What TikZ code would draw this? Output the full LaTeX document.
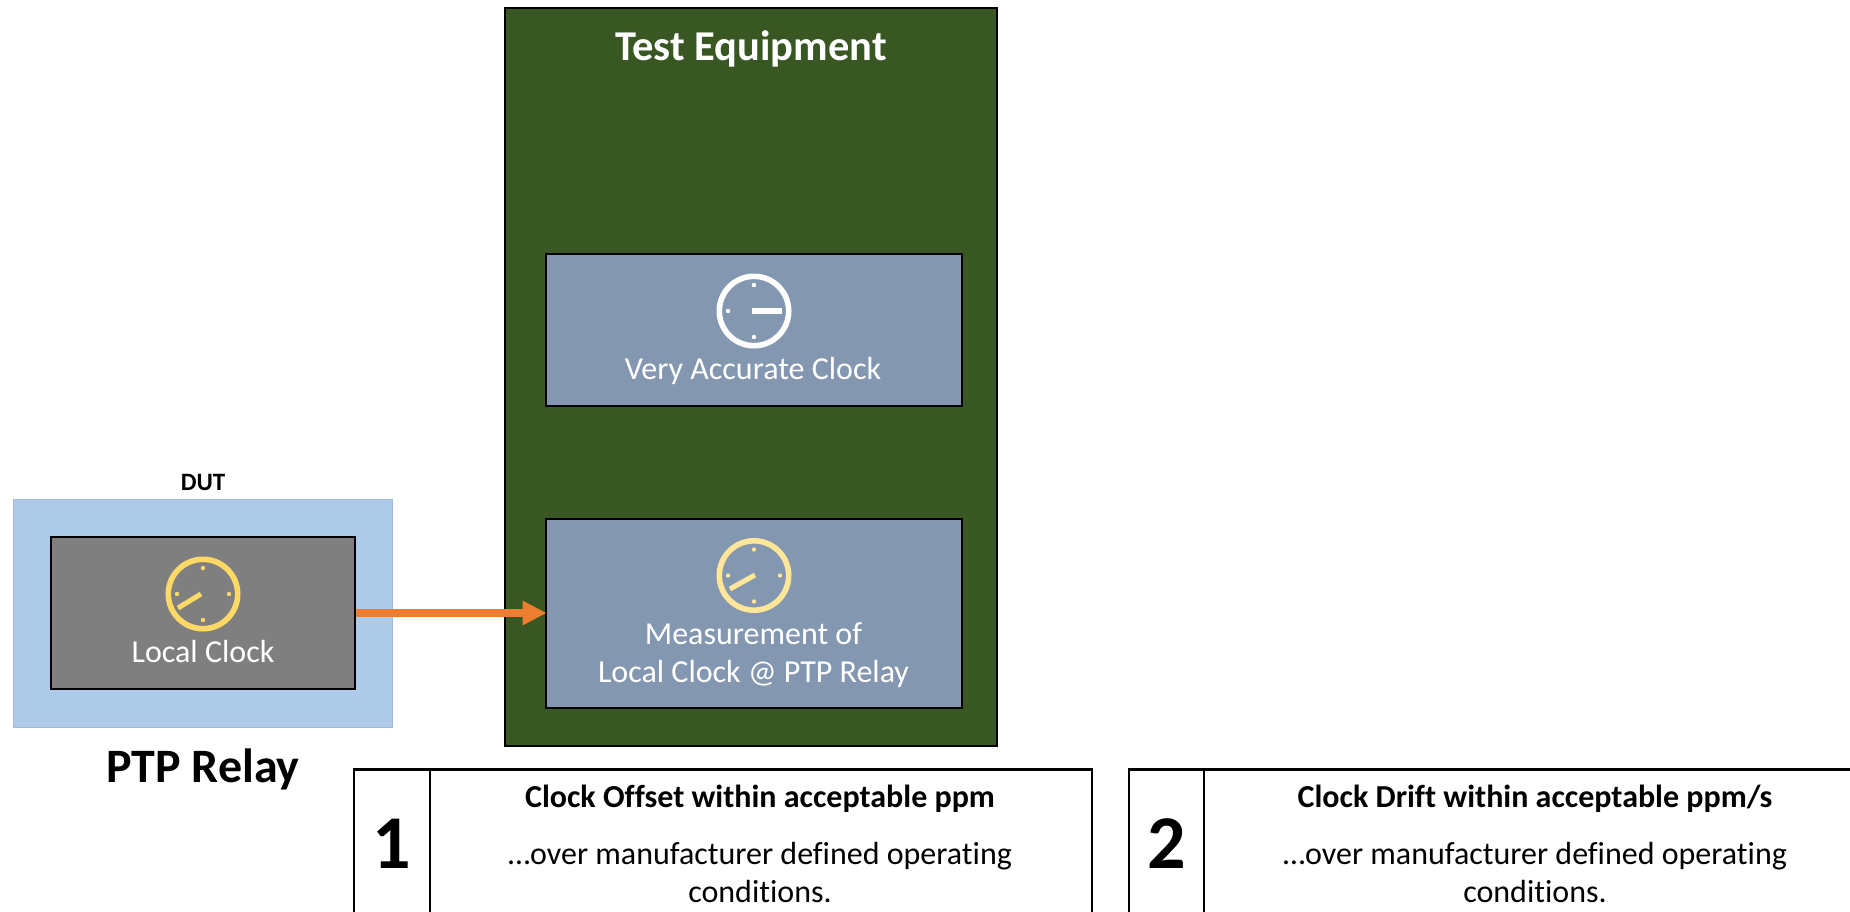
\documentclass[tikz,border=0pt]{standalone}
\usepackage{fontspec}
\setmainfont{Carlito}[Ligatures=NoCommon]
\usetikzlibrary{arrows.meta}
\definecolor{dutblue}{HTML}{ADCBE8}
\definecolor{dutedge}{HTML}{A0B8E0}
\definecolor{lgrey}{HTML}{7F7F7F}
\definecolor{tgreen}{HTML}{385723}
\definecolor{panel}{HTML}{8497B0}
\definecolor{clkyellow}{HTML}{FFD966}
\definecolor{clklight}{HTML}{FFE699}
\definecolor{flow}{HTML}{ED7D31}
\tikzset{
  box/.style={draw=black,line width=2.8pt,inner sep=0pt,rectangle},
  cell/.style={draw=black,line width=2.6pt,inner sep=0pt,outer sep=0pt,rectangle,fill=white},
  lbl/.style={inner sep=0pt,align=center,font=\fontsize{32}{38}\selectfont},
  wlbl/.style={lbl,text=white},
  clockface/.pic={
    \draw[line width=5.6pt,draw=#1] (0,0) circle[radius=34.7];
    \foreach \a in {0,90,180,270}
      \fill[#1] (\a:26) circle[radius=2.2];
  },
}
\begin{document}
\begin{tikzpicture}[x=1pt,y=-1pt]
\useasboundingbox (0,0) rectangle (1850,911);
\clip (0,0) rectangle (1850,911);
% DUT
\node[rectangle,draw=dutedge,line width=1.5pt,fill=dutblue,minimum width=379pt,minimum height=228pt] (dut) at (203,613.5) {};
\node[box,fill=lgrey,minimum width=304pt,minimum height=152pt] (local) at (203,613) {};
\node[lbl,font=\bfseries\fontsize{25}{30}\selectfont] (dutl) at (203,482) {DUT};
\node[lbl,font=\bfseries\fontsize{48}{56}\selectfont] (relay) at (203,769) {PTP Relay};
\path (203,594) pic (c1) {clockface=clkyellow};
\node[coordinate] (c1a) at (201,594) {};
\node[coordinate] (c1b) at (178,608) {};
\draw[clkyellow,line width=5pt] (c1a) -- (c1b);
\node[wlbl] (locall) at (203,651) {Local Clock};
% Test equipment
\node[box,fill=tgreen,minimum width=492pt,minimum height=738pt] (te) at (751,377) {};
\node[wlbl,font=\bfseries\fontsize{42.5}{50}\selectfont] (tel) at (751,48.5) {Test Equipment};
\node[box,fill=panel,minimum width=416pt,minimum height=152pt] (acc) at (754,330) {};
\node[box,fill=panel,minimum width=416pt,minimum height=189pt] (meas) at (754,613.4) {};
\path (754,311) pic (c2) {clockface=white};
\node[coordinate] (c2a) at (752,311) {};
\node[coordinate] (c2b) at (782,311) {};
\draw[white,line width=5.5pt] (c2a) -- (c2b);
\node[wlbl] (accl) at (753,371) {Very Accurate Clock};
\path (754,575.5) pic (c3) {clockface=clklight};
\node[coordinate] (c3a) at (755,575) {};
\node[coordinate] (c3b) at (730,589) {};
\draw[clklight,line width=5pt] (c3a) -- (c3b);
\node[wlbl] (measl) at (753.5,655) {Measurement of\\Local Clock @ PTP Relay};
% arrow
\draw[flow,line width=8pt,shorten >=-2pt,-{Triangle[length=24pt,width=23pt]}] (local.east) -- (local.east -| meas.west);
% table 1
\node[cell,minimum width=76pt,minimum height=180pt,anchor=north west] (n1) at (354,769.5) {};
\node[cell,minimum width=662pt,minimum height=180pt,anchor=north west] (t1) at (430,769.5) {};
\node[lbl,font=\bfseries\fontsize{76}{80}\selectfont] (n1l) at (391.5,844) {1};
\node[lbl,font=\bfseries\fontsize{32}{38}\selectfont] (h1) at (760,799) {Clock Offset within acceptable ppm};
\node[lbl,font=\fontsize{32}{37.5}\selectfont] (b1) at (760,872.5) {…over manufacturer defined operating\\conditions.};
% table 2
\node[cell,minimum width=75pt,minimum height=180pt,anchor=north west] (n2) at (1129,769.5) {};
\node[cell,minimum width=662pt,minimum height=180pt,anchor=north west] (t2) at (1204,769.5) {};
\node[lbl,font=\bfseries\fontsize{76}{80}\selectfont] (n2l) at (1167,844) {2};
\node[lbl,font=\bfseries\fontsize{32}{38}\selectfont] (h2) at (1535,799) {Clock Drift within acceptable ppm/s};
\node[lbl,font=\fontsize{32}{37.5}\selectfont] (b2) at (1535,872.5) {…over manufacturer defined operating\\conditions.};
\end{tikzpicture}
\end{document}
